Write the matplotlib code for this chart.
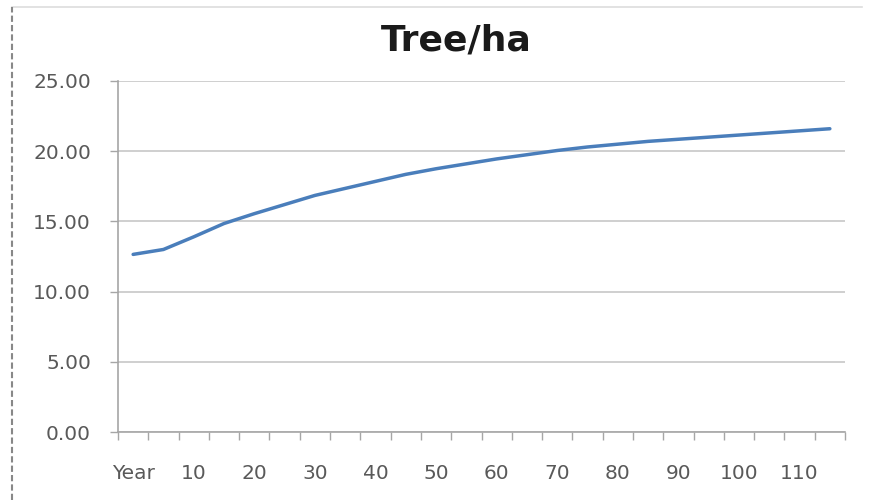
import numpy as np
import matplotlib
matplotlib.use("Agg")
import matplotlib.pyplot as plt
from matplotlib.lines import Line2D

# Trees per hectare over stand age (5-year steps)
years = ["Year", "5", "10", "15", "20", "25", "30", "35", "40", "45", "50", "55",
         "60", "65", "70", "75", "80", "85", "90", "95", "100", "105", "110", "115"]
trees_per_ha = [12.65, 13.0, 13.9, 14.85, 15.55, 16.2, 16.85, 17.35, 17.85, 18.35,
                18.75, 19.1, 19.45, 19.75, 20.05, 20.3, 20.5, 20.7, 20.85, 21.0,
                21.15, 21.3, 21.45, 21.6]
y_ticks = [0, 5, 10, 15, 20, 25]

plt.rcParams['font.family'] = ['DejaVu Sans']
grey = '#595959'

fig = plt.figure(figsize=(8.77, 5.0), dpi=100)
ax = fig.add_axes([118/877, 1 - 432/500, 727/877, 351/500])

x = np.arange(len(years))
ax.plot(x, trees_per_ha, color='#4a7ebb', lw=2.5, solid_capstyle='round')

ax.set_xlim(-0.5, len(years) - 0.5)
ax.set_ylim(0, 25)

# category axis: ticks on boundaries, labels on every second category
ax.set_xticks(np.arange(-0.5, len(years)), minor=False)
ax.set_xticklabels([])
ax.set_xticks(x[::2], minor=True)
ax.set_xticklabels(years[::2], minor=True)
ax.tick_params(axis='x', which='major', direction='out', length=6,
               color='#a6a6a6', width=1)
ax.tick_params(axis='x', which='minor', length=0, pad=23, labelsize=14.5,
               labelcolor=grey)

ax.set_yticks(y_ticks)
ax.set_yticklabels([f"{v:.2f}" for v in y_ticks])
ax.tick_params(axis='y', direction='out', length=6, color='#a6a6a6', width=1,
               pad=13.5, labelsize=14.5, labelcolor=grey)
ax.yaxis.grid(True, color='#cccccc', lw=1.3)
ax.set_axisbelow(True)

for side in ('top', 'right'):
    ax.spines[side].set_visible(False)
for side in ('left', 'bottom'):
    ax.spines[side].set_color('#a6a6a6')
    ax.spines[side].set_linewidth(1.2)

fig.text(456/877, 1 - 40/500, "Tree/ha", ha='center', va='center',
         fontsize=26, fontweight='bold', color='#1a1a1a')

# chart frame edges
fig.add_artist(Line2D([12/877, 862/877], [1 - 7/500] * 2, color='#dddddd', lw=1.2))
fig.add_artist(Line2D([12/877] * 2, [0, 1 - 7/500], color='#888888', lw=1.5,
                      ls=(0, (3, 1.5))))

fig.savefig('out.png', dpi=100)
